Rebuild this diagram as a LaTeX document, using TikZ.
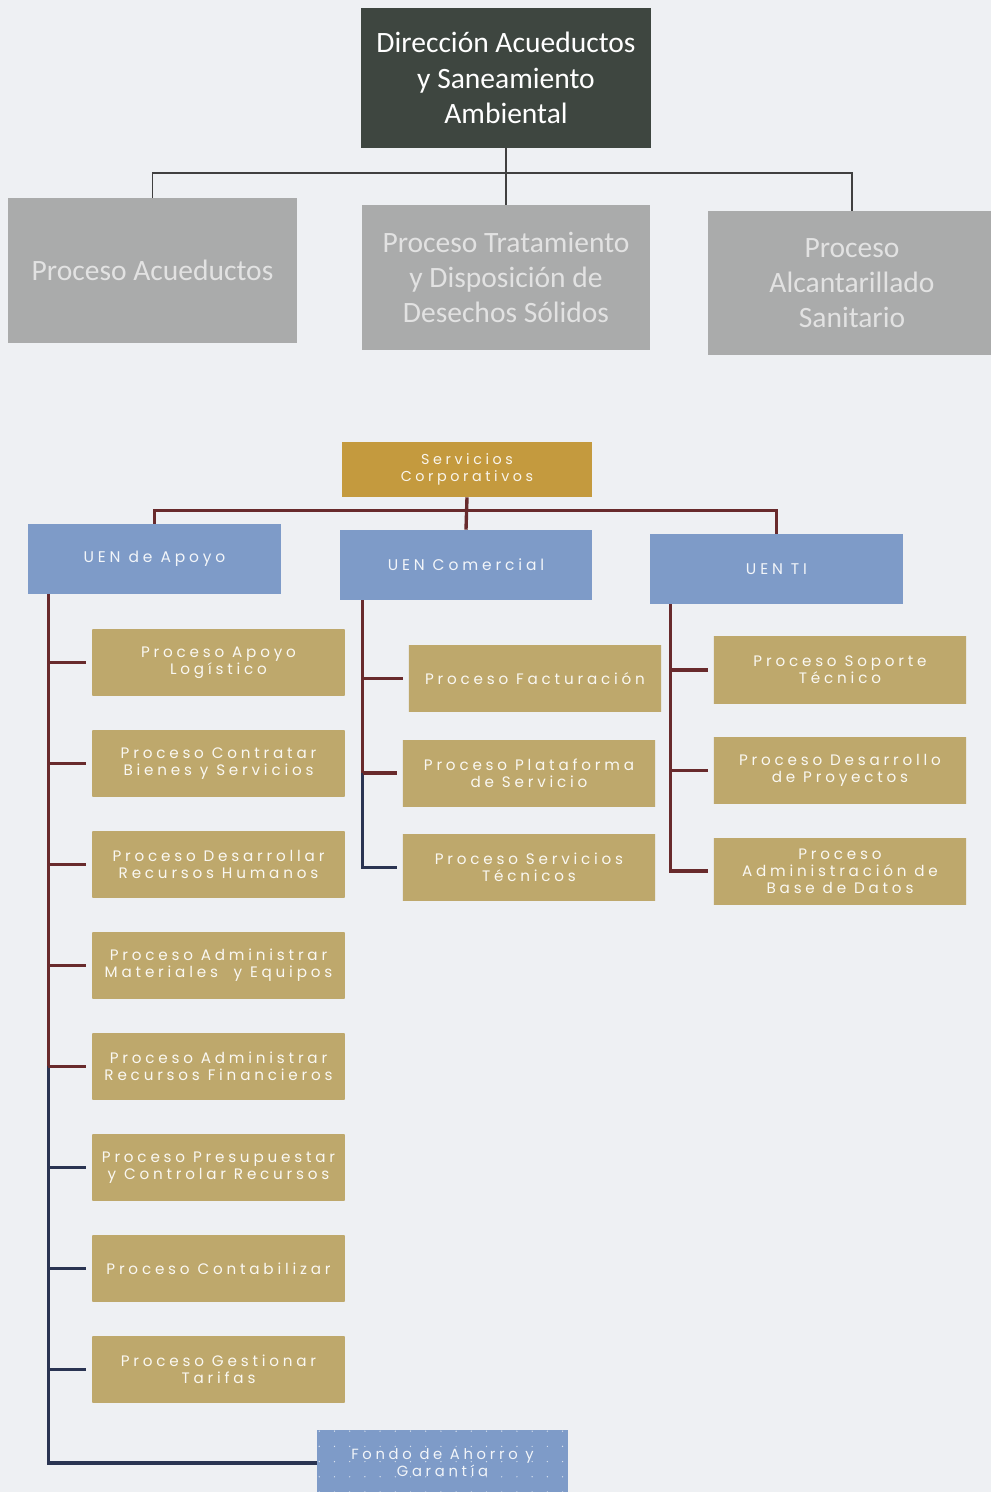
\documentclass[tikz,border=0pt]{standalone}
\usepackage{fontspec}
\setmainfont{Carlito}
\newfontfamily\widefont[LetterSpace=25]{Poppins}
\definecolor{paper}{RGB}{238,240,243}
\definecolor{slate}{RGB}{62,70,64}
\definecolor{ashgray}{RGB}{170,171,171}
\definecolor{ashtext}{RGB}{226,226,226}
\definecolor{ochre}{RGB}{196,154,62}
\definecolor{steelblue}{RGB}{126,155,200}
\definecolor{tandark}{RGB}{190,168,108}
\definecolor{tanlight}{RGB}{214,198,148}
\definecolor{maroon}{RGB}{104,42,44}
\definecolor{inkblue}{RGB}{42,52,82}
\usetikzlibrary{positioning, patterns.meta}

\begin{document}
\begin{tikzpicture}[x=0.025cm, y=-0.025cm,
    dirbox/.style={fill=slate, text=white, minimum width=7.25cm, minimum height=3.5cm,
      align=center, font=\fontsize{21}{25}\selectfont},
    procbox/.style={fill=ashgray, text=ashtext, minimum width=7.2cm, minimum height=3.6cm,
      align=center, font=\fontsize{21}{25}\selectfont},
    corpbox/.style={fill=ochre, text=white!90!ochre, minimum width=6.25cm, minimum height=1.375cm,
      align=center, font=\fontsize{10.2}{12}\widefont},
    uenbox/.style={fill=steelblue, text=white!90!steelblue, minimum width=6.3cm, minimum height=1.75cm,
      align=center, font=\fontsize{11}{12}\widefont},
    tanbox/.style={top color=tandark, middle color=tanlight, bottom color=tandark,
      text=white!88!tanlight, minimum width=6.3cm, minimum height=1.65cm, inner sep=1pt,
      align=center, font=\fontsize{10.8}{12}\widefont},
    fondobox/.style={preaction={fill=steelblue}, pattern={Dots[distance=0.38cm, radius=0.5pt]},
      pattern color=white!70!steelblue, text=white!90!steelblue, minimum width=6.275cm,
      minimum height=1.65cm, align=center, font=\fontsize{10.5}{12}\widefont},
    topline/.style={draw=black!75, line width=1.4pt},
    brownline/.style={draw=maroon, line width=2.4pt},
    navyline/.style={draw=inkblue, line width=2.4pt},
    tick/.style={shorten >=0.15cm},
  ]
  \useasboundingbox (0,0) rectangle (991,1492);
  \fill[paper] (0,0) rectangle (991,1492);

  % direccion y procesos
  \node[dirbox] (dir) at (506,78) {Dirección Acueductos\\y Saneamiento\\Ambiental};
  \node[procbox] (pacu) at (152.5,270.5) {Proceso Acueductos};
  \node[procbox] (ptra) at (506,277.5) {Proceso Tratamiento\\y Disposición de\\Desechos Sólidos};
  \node[procbox] (palc) at (852,283) {Proceso\\Alcantarillado\\Sanitario};
  \draw[topline] (dir.south) -- (ptra.north);
  \draw[topline] (pacu.north) -- ++(0,-25) -| (palc.north);

  % servicios corporativos
  \node[corpbox] (serv) at (467,469.5) {Servicios\\Corporativos};
  \node[uenbox] (apoyo) at (154.5,559) {UEN de Apoyo};
  \node[uenbox] (comer) at (466,565) {UEN Comercial};
  \node[uenbox] (uenti) at (776.5,569) {UEN TI};
  \draw[brownline] (apoyo.north) -- ++(0,-13) -| (uenti.north);
  \draw[brownline] (serv.south) -- (comer.north);

  % UEN de Apoyo
  \coordinate (ca) at ([xshift=0.5cm]apoyo.south west);
  \node[tanbox] (l1) at (218.5,662.5) {Proceso Apoyo\\Logístico};
  \node[tanbox, below=0.86cm of l1] (l2) {Proceso Contratar\\Bienes y Servicios};
  \node[tanbox, below=0.86cm of l2] (l3) {Proceso Desarrollar\\Recursos Humanos};
  \node[tanbox, below=0.86cm of l3] (l4) {Proceso Administrar\\Materiales\ \ y Equipos};
  \node[tanbox, below=0.86cm of l4] (l5) {Proceso Administrar\\Recursos Financieros};
  \node[tanbox, below=0.86cm of l5] (l6) {Proceso Presupuestar\\y Controlar Recursos};
  \node[tanbox, below=0.86cm of l6] (l7) {Proceso Contabilizar};
  \node[tanbox, below=0.86cm of l7] (l8) {Proceso Gestionar\\Tarifas};
  \node[fondobox] (fondo) at (442.5,1463) {Fondo de Ahorro y\\Garantía};
  \draw[brownline] (ca) -- (ca |- l5.west);
  \draw[navyline] (ca |- l5.west) |- (fondo.west);
  \foreach \b in {l1,l2,l3,l4,l5}
    \draw[brownline, tick] (ca |- \b.west) -- (\b.west);
  \foreach \b in {l6,l7,l8}
    \draw[navyline, tick] (ca |- \b.west) -- (\b.west);

  % UEN Comercial
  \coordinate (cc) at ([xshift=0.575cm]comer.south west);
  \node[tanbox] (m1) at (535,678.5) {Proceso Facturación};
  \node[tanbox, below=0.7cm of m1.south west, anchor=north west, xshift=-0.15cm] (m2) {Proceso Plataforma\\de Servicio};
  \node[tanbox, below=0.7cm of m2] (m3) {Proceso Servicios\\Técnicos};
  \draw[brownline] (cc) -- (cc |- m2.west);
  \draw[navyline, tick] (cc |- m2.west) |- (m3.west);
  \foreach \b in {m1,m2}
    \draw[brownline, tick] (cc |- \b.west) -- (\b.west);

  % UEN TI
  \coordinate (ct) at ([xshift=0.5cm]uenti.south west);
  \node[tanbox] (r1) at (840,670) {Proceso Soporte\\Técnico};
  \node[tanbox, below=0.85cm of r1] (r2) {Proceso Desarrollo\\de Proyectos};
  \node[tanbox, below=0.85cm of r2] (r3) {Proceso\\Administración de\\Base de Datos};
  \draw[brownline, tick] (ct) |- (r3.west);
  \foreach \b in {r1,r2}
    \draw[brownline, tick] (ct |- \b.west) -- (\b.west);
\end{tikzpicture}
\end{document}
